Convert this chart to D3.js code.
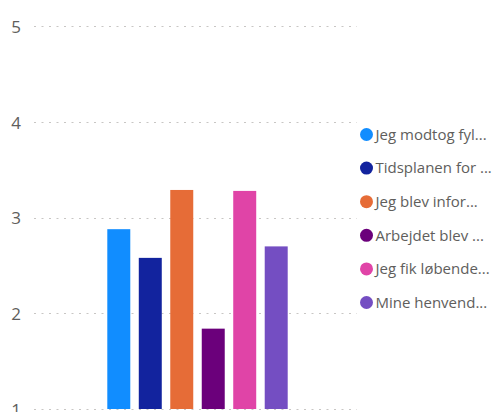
<!DOCTYPE html>
<html>
<head>
<meta charset="utf-8">
<script src="https://cdn.jsdelivr.net/npm/d3@7"></script>
<style>
  html, body { margin: 0; padding: 0; background: #fff; }
  svg { display: block; }
  text { font-family: "Open Sans", "Segoe UI", sans-serif; }
</style>
</head>
<body>
<svg id="chart" width="497" height="412"></svg>
<script>
const seriesNames = [
  "Jeg modtog fyldestgørende information",
  "Tidsplanen for arbejdet blev overholdt",
  "Jeg blev informeret om ændringer",
  "Arbejdet blev udført tilfredsstillende",
  "Jeg fik løbende information",
  "Mine henvendelser blev besvaret"
];
const legendLabels = [
  "Jeg modtog fyl...",
  "Tidsplanen for ...",
  "Jeg blev infor...",
  "Arbejdet blev ...",
  "Jeg fik løbende...",
  "Mine henvend..."
];
const seriesValues = [2.88, 2.58, 3.29, 1.84, 3.28, 2.70];
const seriesColors = ["#118DFF", "#12239E", "#E66C37", "#6B007B", "#E044A7", "#744EC2"];
const yTicks = [1, 2, 3, 4, 5];

const svg = d3.select("#chart");

const y = d3.scaleLinear().domain([1, 5]).range([409, 26.4]);
const x = d3.scaleBand().domain(seriesNames).range([107.3, 287.7]).paddingInner(0.27).paddingOuter(0);

// gridlines
const grid = svg.append("g").attr("class", "grid");
grid.selectAll("line").data(yTicks).join("line")
  .attr("x1", 34).attr("x2", 357)
  .attr("y1", d => Math.round(y(d)) + 0.5).attr("y2", d => Math.round(y(d)) + 0.5)
  .attr("stroke", "#C8C6C4").attr("stroke-width", 1)
  .attr("stroke-dasharray", "2,5.5");

// y axis labels
const yAxis = d3.axisLeft(y).tickValues(yTicks).tickSize(0).tickPadding(0).tickFormat(d3.format("d"));
const ya = svg.append("g").attr("transform", "translate(21,0)").call(yAxis);
ya.select(".domain").remove();
ya.selectAll("text")
  .attr("fill", "#605E5C")
  .style("font-size", "17px")
  .attr("dy", "0.36em");

// bars
svg.append("g").selectAll("rect").data(seriesValues).join("rect")
  .attr("x", (d, i) => x(seriesNames[i]))
  .attr("width", x.bandwidth())
  .attr("y", d => y(d))
  .attr("height", d => y(1) - y(d))
  .attr("fill", (d, i) => seriesColors[i]);

// legend
const legendY = d3.scalePoint().domain(d3.range(legendLabels.length)).range([134.5, 302.5]);
const lg = svg.append("g").selectAll("g").data(legendLabels).join("g")
  .attr("transform", (d, i) => `translate(366.5,${legendY(i)})`);
lg.append("circle").attr("r", 6.5).attr("fill", (d, i) => seriesColors[i]);
lg.append("text")
  .attr("x", 9)
  .attr("dy", "0.35em")
  .attr("fill", "#605E5C")
  .style("font-size", "15px")
  .text(d => d);
</script>
</body>
</html>
